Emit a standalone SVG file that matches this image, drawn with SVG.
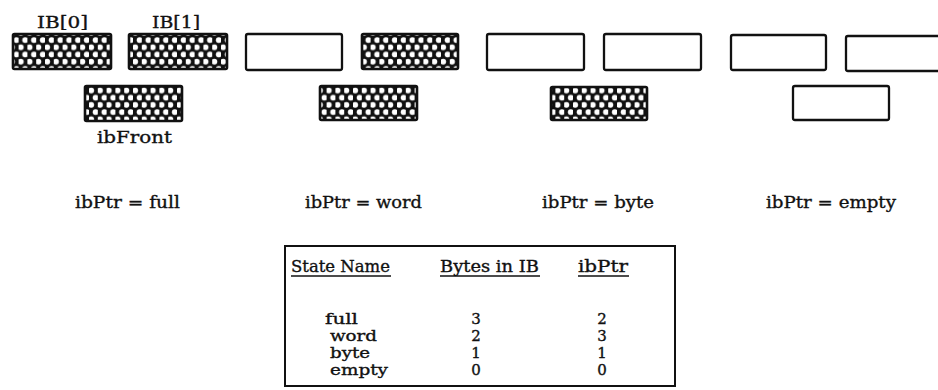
<svg xmlns="http://www.w3.org/2000/svg" width="938" height="390" viewBox="0 0 938 390">
  <defs>
    <!-- dark lattice with white holes, used for occupied bytes -->
    <pattern id="hatch" patternUnits="userSpaceOnUse" width="8.8" height="14.4" x="1" y="0.5">
      <rect width="8.8" height="14.4" fill="#111"/>
      <circle cx="2.2" cy="3.6" r="2.9" fill="#fff"/>
      <circle cx="6.6" cy="10.8" r="2.9" fill="#fff"/>
    </pattern>
    <style>
      text { font-family: "DejaVu Serif", "Liberation Serif", serif; fill: #111; stroke: #111; stroke-width: 0.35; }
      .lbl { font-size: 17px; }
      .hdr { font-size: 16.5px; }
      .tbl { font-size: 15px; }
      .full { fill: url(#hatch); stroke: #111; stroke-width: 2.6; }
      .empty { fill: #fff; stroke: #111; stroke-width: 2.3; }
      .frame { fill: none; stroke: #111; stroke-width: 2; }
      .ul { stroke: #111; stroke-width: 1.5; }
    </style>
  </defs>
  <rect width="938" height="390" fill="#fff"/>

  <!-- state: full -->
  <g id="state-full">
    <text class="lbl" x="37" y="28" textLength="51" lengthAdjust="spacingAndGlyphs">IB[0]</text>
    <text class="lbl" x="152" y="28" textLength="48" lengthAdjust="spacingAndGlyphs">IB[1]</text>
    <rect class="full" x="13" y="34" width="98" height="35" rx="1.5"/>
    <rect class="full" x="129" y="34" width="98" height="35" rx="1.5"/>
    <rect class="full" x="85" y="86" width="97" height="35" rx="1.5"/>
    <text class="lbl" x="97" y="143" textLength="75" lengthAdjust="spacingAndGlyphs">ibFront</text>
    <text class="lbl" x="75" y="208" textLength="105" lengthAdjust="spacingAndGlyphs">ibPtr = full</text>
  </g>

  <!-- state: word -->
  <g id="state-word">
    <rect class="empty" x="246" y="34" width="96" height="36" rx="2"/>
    <rect class="full" x="362" y="34" width="96" height="35" rx="1.5"/>
    <rect class="full" x="320" y="86" width="97" height="34" rx="1.5"/>
    <text class="lbl" x="305" y="208" textLength="117" lengthAdjust="spacingAndGlyphs">ibPtr = word</text>
  </g>

  <!-- state: byte -->
  <g id="state-byte">
    <rect class="empty" x="487" y="34" width="97" height="36" rx="2"/>
    <rect class="empty" x="604" y="34" width="97" height="36" rx="2"/>
    <rect class="full" x="551" y="87" width="96" height="33" rx="1.5"/>
    <text class="lbl" x="542" y="208" textLength="112" lengthAdjust="spacingAndGlyphs">ibPtr = byte</text>
  </g>

  <!-- state: empty -->
  <g id="state-empty">
    <rect class="empty" x="731" y="35" width="95" height="35" rx="2"/>
    <rect class="empty" x="846" y="36" width="110" height="35" rx="2"/>
    <rect class="empty" x="793" y="86" width="96" height="34" rx="2"/>
    <text class="lbl" x="766" y="208" textLength="130" lengthAdjust="spacingAndGlyphs">ibPtr = empty</text>
  </g>

  <!-- state table -->
  <g id="state-table">
    <rect class="frame" x="285" y="246" width="390" height="140"/>
    <text class="hdr" x="291" y="272" textLength="99" lengthAdjust="spacingAndGlyphs">State Name</text>
    <line class="ul" x1="291" y1="276" x2="391" y2="276"/>
    <text class="hdr" x="440" y="272" textLength="99" lengthAdjust="spacingAndGlyphs">Bytes in IB</text>
    <line class="ul" x1="440" y1="276" x2="540" y2="276"/>
    <text class="hdr" x="578" y="272" textLength="50" lengthAdjust="spacingAndGlyphs">ibPtr</text>
    <line class="ul" x1="578" y1="276" x2="629" y2="276"/>

    <text class="tbl" x="325" y="324" textLength="33" lengthAdjust="spacingAndGlyphs">full</text>
    <text class="tbl" x="330" y="341" textLength="47" lengthAdjust="spacingAndGlyphs">word</text>
    <text class="tbl" x="330" y="358" textLength="40" lengthAdjust="spacingAndGlyphs">byte</text>
    <text class="tbl" x="330" y="375" textLength="58" lengthAdjust="spacingAndGlyphs">empty</text>

    <g text-anchor="middle">
      <text class="tbl" x="476" y="324">3</text>
      <text class="tbl" x="476" y="341">2</text>
      <text class="tbl" x="476" y="358">1</text>
      <text class="tbl" x="476" y="375">0</text>
      <text class="tbl" x="602" y="324">2</text>
      <text class="tbl" x="602" y="341">3</text>
      <text class="tbl" x="602" y="358">1</text>
      <text class="tbl" x="602" y="375">0</text>
    </g>
  </g>
</svg>
